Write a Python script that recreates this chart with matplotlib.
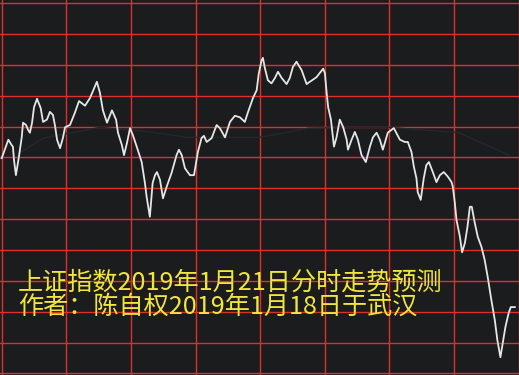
import numpy as np
import matplotlib.pyplot as plt

# intraday minutes (0-240) and index level
minutes = [0, 3.1, 4.6, 5.2, 5.7, 6.6, 8.0, 9.3, 9.9, 11.3, 12.2, 13.1, 14.1, 15.0,
           16.4, 18.1, 19.2, 21.0, 22.4, 23.8, 24.7, 25.7, 27.1, 28.5, 29.4, 31.7,
           34.0, 35.9, 38.7, 41.0, 44.2, 45.6, 47.0, 48.9, 51.2, 53.1, 54.0, 55.8,
           56.8, 58.2, 59.6, 60.9, 62.7, 65.0, 66.5, 67.3, 68.8, 70.1, 71.2, 72.1,
           73.5, 74.9, 76.6, 78.9, 81.2, 82.3, 83.6, 85.1, 87.4, 89.3, 91.1, 92.8,
           93.9, 95.2, 97.5, 99.8, 101.3, 103.7, 106.0, 108.3, 110.6, 112.9, 114.3,
           116.7, 118.4, 119.4, 120.7, 121.3, 122.2, 123.6, 125.3, 126.9, 128.3,
           130.0, 132.3, 133.8, 135.2, 136.9, 139.3, 141.6, 143.1, 146.2, 149.3,
           150.1, 150.9, 151.6, 152.9, 154.3, 155.5, 157.0, 158.6, 160.2, 160.8,
           162.5, 164.0, 165.4, 167.1, 169.1, 171.0, 172.4, 174.1, 175.6, 177.0,
           179.3, 182.1, 184.9, 187.2, 188.6, 190.3, 191.4, 192.6, 193.2, 194.6,
           196.0, 197.2, 198.4, 200.2, 201.9, 203.5, 205.3, 207.2, 208.9, 209.5,
           210.4, 211.2, 212.8, 213.8, 215.1, 216.3, 217.4, 218.3, 219.7, 221.1,
           222.8, 224.3, 225.7, 227.4, 229.0, 230.2, 231.6, 232.7, 233.9, 235.4,
           236.4, 238.3]
price = [2599.9, 2602.3, 2601.6, 2601.4, 2599.7, 2597.7, 2600.1, 2602.6, 2604.5,
         2604.2, 2603.6, 2603.2, 2604.5, 2606.5, 2607.6, 2606.4, 2604.6, 2604.9,
         2605.9, 2605.5, 2604.2, 2602.3, 2601.2, 2602.6, 2603.9, 2604.2, 2605.8,
         2607.3, 2606.7, 2607.7, 2609.8, 2608.4, 2606.1, 2604.5, 2606.1, 2604.9,
         2603.2, 2601.6, 2600.3, 2601.9, 2603.8, 2602.9, 2601.4, 2599.4, 2596.7,
         2594.9, 2592.3, 2596.7, 2597.7, 2598.1, 2597.1, 2594.7, 2596.2, 2598.0,
         2600.3, 2601.0, 2600.3, 2598.6, 2597.7, 2597.7, 2600.7, 2602.5, 2602.8,
         2602.0, 2602.5, 2604.2, 2603.8, 2602.6, 2604.6, 2605.4, 2605.2, 2604.6,
         2605.8, 2607.7, 2608.7, 2610.9, 2612.6, 2612.9, 2611.6, 2610.0, 2609.6,
         2610.3, 2611.1, 2610.3, 2609.5, 2610.3, 2611.7, 2612.4, 2611.3, 2609.5,
         2609.8, 2610.4, 2611.5, 2610.9, 2608.4, 2606.5, 2604.9, 2601.4, 2602.6,
         2604.9, 2603.9, 2602.3, 2601.0, 2602.3, 2603.3, 2602.3, 2600.3, 2599.4,
         2601.4, 2602.6, 2603.2, 2602.3, 2601.0, 2603.2, 2603.8, 2602.3, 2602.0,
         2602.0, 2600.7, 2598.8, 2597.3, 2595.5, 2594.5, 2597.3, 2599.0, 2599.4,
         2598.1, 2596.8, 2597.7, 2598.1, 2597.5, 2596.8, 2596.2, 2594.2, 2591.9,
         2589.7, 2587.7, 2588.9, 2591.0, 2593.6, 2593.6, 2591.5, 2589.7, 2588.4,
         2586.7, 2584.5, 2581.5, 2578.9, 2576.3, 2574.1, 2576.0, 2578.0, 2579.8,
         2580.6, 2580.6]

# faint average-price line
avg_minutes = [8.5, 19.2, 45.6, 68.9, 86.0, 119.9, 142.7, 179.8, 212.3, 235.5]
avg_price = [2600.6, 2602.5, 2603.9, 2603.3, 2602.6, 2602.6, 2603.8, 2603.9, 2603.2, 2600.3]

prev_close = 2596
step = 4
title_lines = ['上证指数2019年1月21日分时走势预测', '作者：陈自权2019年1月18日于武汉']

plt.rcParams['font.family'] = ['Noto Sans CJK SC', 'DejaVu Sans']

fig = plt.figure(figsize=(5.19, 3.75), dpi=100, facecolor='#1b1c1e')
ax = fig.add_axes([0, 0, 1, 1])
ax.set_facecolor('#1b1c1e')

for k in range(-6, 7):
    ax.axhline(prev_close + k * step, color='#e0302c', lw=1.0, zorder=1)
for m in range(0, 241, 30):
    ax.axvline(m, color='#e0302c', lw=1.0, zorder=1)

ax.plot(avg_minutes, avg_price, color='#26272a', lw=1.0, zorder=2)
ax.plot(minutes, price, color='#e6e6e6', lw=1.3, zorder=3)

ax.set_xlim(-0.79, 240.23)
ax.set_ylim(2571.8, 2620.4)
ax.axis('off')

fig.text(18 / 519, 1 - 290 / 375, title_lines[0], color='#f2e63c',
         fontsize=18.1, va='baseline', ha='left')
fig.text(18 / 519, 1 - 314 / 375, title_lines[1], color='#f2e63c',
         fontsize=18.1, va='baseline', ha='left')

fig.savefig('out.png', dpi=100, facecolor=fig.get_facecolor())
